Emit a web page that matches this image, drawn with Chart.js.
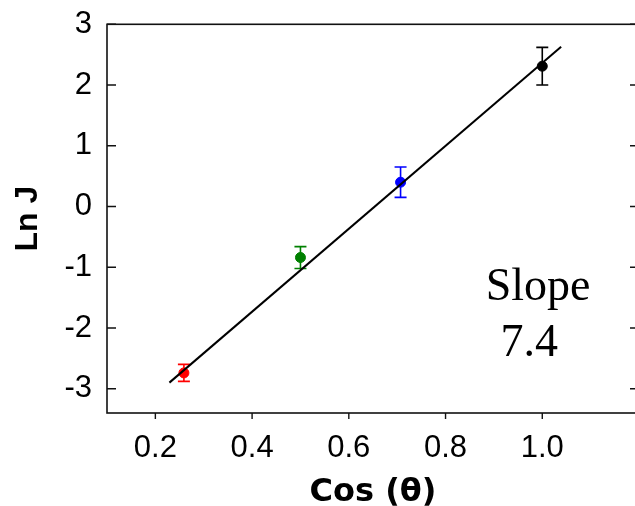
<!DOCTYPE html>
<html>
<head>
<meta charset="utf-8">
<script src="https://cdn.jsdelivr.net/npm/chart.js@4.4.0/dist/chart.umd.min.js"></script>
<style>
  html, body { margin: 0; padding: 0; background: #fff; overflow: hidden; }
</style>
</head>
<body>
<canvas id="chart" width="645" height="506"></canvas>
<script>
// Données
const cosTheta = [0.259, 0.5, 0.707, 1.0];
const lnJ = [-2.74, -0.84, 0.40, 2.31];
const lnJErr = [0.14, 0.18, 0.25, 0.31];
const pointColors = ["#ff0000", "#008000", "#0000ff", "#000000"];
const fitX = [0.229, 1.039];
const fitY = [-2.90, 2.63];
const xTicks = [0.2, 0.4, 0.6, 0.8, 1.0];
const yTicks = [-3, -2, -1, 0, 1, 2, 3];
const xTitle = "Cos (θ)";
const yTitle = "Ln J";
const noteLines = ["Slope", "7.4"];

// Barres d'erreur verticales
const errorBars = {
  id: "errorBars",
  beforeDatasetsDraw(chart) {
    const { ctx, scales: { x, y } } = chart;
    const cap = 6;
    ctx.save();
    ctx.lineWidth = 1.6;
    cosTheta.forEach((cx, i) => {
      const px = x.getPixelForValue(cx);
      const top = y.getPixelForValue(lnJ[i] + lnJErr[i]);
      const bot = y.getPixelForValue(lnJ[i] - lnJErr[i]);
      ctx.strokeStyle = pointColors[i];
      ctx.beginPath();
      ctx.moveTo(px, top); ctx.lineTo(px, bot);
      ctx.moveTo(px - cap, top); ctx.lineTo(px + cap, top);
      ctx.moveTo(px - cap, bot); ctx.lineTo(px + cap, bot);
      ctx.stroke();
    });
    ctx.restore();
  }
};

// Cadre, graduations et annotation
const frame = {
  id: "frame",
  afterDraw(chart) {
    const { ctx, chartArea: a, scales: { x, y } } = chart;
    ctx.save();
    ctx.strokeStyle = "#111";
    ctx.lineWidth = 1.6;
    ctx.strokeRect(a.left, a.top, a.right - a.left, a.bottom - a.top);
    ctx.lineWidth = 1.4;
    ctx.beginPath();
    y.ticks.forEach(t => {
      const py = y.getPixelForValue(t.value);
      ctx.moveTo(a.left, py); ctx.lineTo(a.left + 9, py);
      ctx.moveTo(a.right, py); ctx.lineTo(a.right - 9, py);
    });
    x.ticks.forEach(t => {
      const px = x.getPixelForValue(t.value);
      ctx.moveTo(px, a.bottom); ctx.lineTo(px, a.bottom + 6);
    });
    ctx.stroke();

    ctx.fillStyle = "#000";
    ctx.textAlign = "left";
    ctx.textBaseline = "alphabetic";
    ctx.font = "46px 'Liberation Serif'";
    ctx.fillText(noteLines[0], x.getPixelForValue(0.883), y.getPixelForValue(-1.546));
    ctx.fillText(noteLines[1], x.getPixelForValue(0.9136), y.getPixelForValue(-2.464));
    ctx.restore();
  }
};

const ctx = document.getElementById("chart").getContext("2d");
const chart = new Chart(ctx, {
  type: "scatter",
  data: {
    datasets: [
      {
        label: "fit",
        data: fitX.map((v, i) => ({ x: v, y: fitY[i] })),
        showLine: true,
        borderColor: "#000",
        borderWidth: 2,
        pointRadius: 0,
        order: 0
      },
      {
        label: yTitle,
        data: cosTheta.map((v, i) => ({ x: v, y: lnJ[i] })),
        pointBackgroundColor: pointColors,
        pointBorderColor: pointColors,
        pointRadius: 5,
        order: 1
      }
    ]
  },
  options: {
    responsive: false,
    animation: false,
    devicePixelRatio: 1,
    layout: { padding: { top: 24, right: 4, left: 0, bottom: 0 } },
    plugins: { legend: { display: false }, tooltip: { enabled: false } },
    scales: {
      x: {
        type: "linear",
        min: 0.1,
        max: 1.2,
        afterBuildTicks: s => { s.ticks = xTicks.map(v => ({ value: v })); },
        grid: { display: false, drawTicks: false },
        border: { display: false },
        ticks: {
          padding: 17,
          color: "#000",
          autoSkip: false,
          maxRotation: 0,
          font: { family: "Liberation Sans", size: 31 },
          callback: v => v.toFixed(1)
        },
        title: {
          display: true,
          text: xTitle,
          color: "#000",
          padding: 0,
          font: { family: "DejaVu Sans", size: 32, weight: "bold", lineHeight: 0.85 }
        },
        afterFit: s => { s.height = 93; }
      },
      y: {
        type: "linear",
        min: -3.4,
        max: 3,
        afterBuildTicks: s => { s.ticks = yTicks.map(v => ({ value: v })); },
        grid: { display: false, drawTicks: false },
        border: { display: false },
        ticks: {
          padding: 15,
          color: "#000",
          font: { family: "Liberation Sans", size: 31, lineHeight: 0.6 },
          callback: v => String(v)
        },
        title: {
          display: true,
          text: yTitle,
          color: "#000",
          padding: { top: 12, bottom: 0 },
          font: { family: "Liberation Sans", size: 32, weight: "bold", lineHeight: 1 }
        },
        afterFit: s => { s.width = 107; }
      }
    }
  },
  plugins: [errorBars, frame]
});
</script>
</body>
</html>
